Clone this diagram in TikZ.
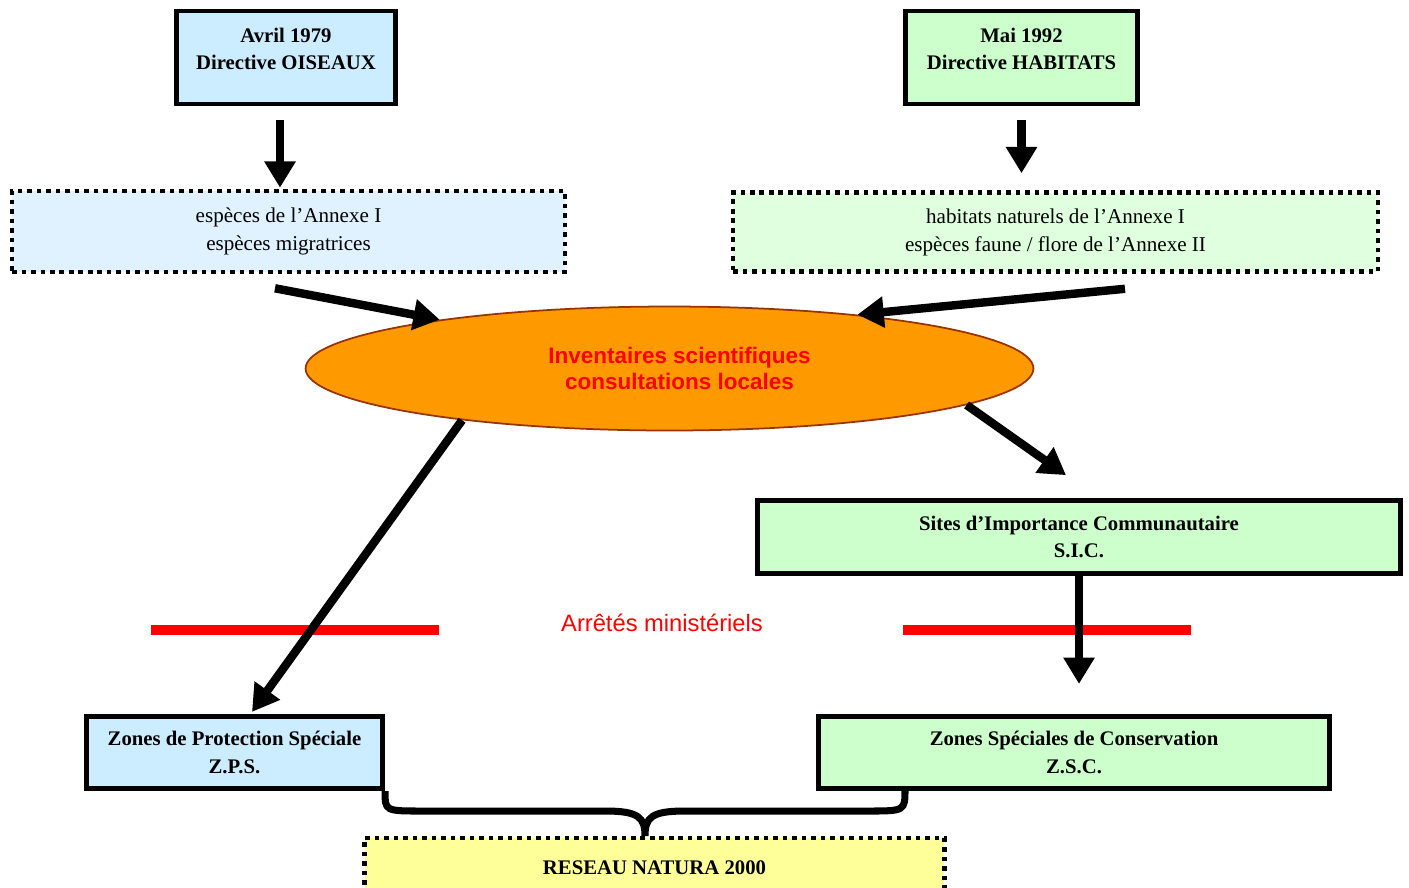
\documentclass[tikz,border=0pt]{standalone}
\usepackage{fontspec}
\setmainfont{Liberation Serif}
\setsansfont{Liberation Sans}
\usepackage{tikz}
\usetikzlibrary{positioning}
\usetikzlibrary{arrows.meta, shapes, calc}

\definecolor{bleuclair}{HTML}{CCECFF}
\definecolor{bleupale}{HTML}{E0F2FF}
\definecolor{vertclair}{HTML}{CCFFCC}
\definecolor{vertpale}{HTML}{DFFFDF}
\definecolor{jaunepale}{HTML}{FFFF99}
\definecolor{orangeinv}{HTML}{FF9900}
\definecolor{brun}{HTML}{993300}

\tikzset{
    directive/.style={draw, line width=2.7pt, align=center, inner sep=0pt,
        font=\fontsize{11.8pt}{15.5pt}\selectfont\bfseries},
    annexe/.style={draw, line width=2.6pt, dash pattern=on 2.6pt off 2.8pt,
        align=center, inner sep=0pt, font=\fontsize{12pt}{16pt}\selectfont},
    fleche/.style={line width=4.8pt, -{Triangle[length=15pt, width=17pt]}},
    trait/.style={red, line width=6pt},
    accolade/.style={line width=4pt},
}

\begin{document}
\begin{tikzpicture}[x=0.02cm, y=-0.02cm]
    \useasboundingbox (0,0) rectangle (1409,887);

    % Nodes
    \node[directive, fill=bleuclair, minimum width=4.39cm, minimum height=1.86cm, text depth=10pt]
        (oiseaux) at (286,57.5) {Avril 1979 \\ Directive OISEAUX};

    \node[directive, fill=vertclair, minimum width=4.65cm, minimum height=1.86cm, text depth=10pt]
        (habitats) at (1021.5,57.5) {Mai 1992 \\ Directive HABITATS};

    \node[annexe, fill=bleupale, minimum width=11.06cm, minimum height=1.62cm]
        (annexeA) at (288.5,231.5) {espèces de l’Annexe I \\ espèces migratrices};

    \node[annexe, fill=vertpale, minimum width=12.9cm, minimum height=1.58cm]
        (annexeB) at (1055.5,232) {habitats naturels de l’Annexe I \\ espèces faune / flore de l’Annexe II};

    \node[ellipse, draw=brun, line width=1pt, fill=orangeinv, inner sep=0pt,
        minimum width=14.56cm, minimum height=2.48cm, align=center, text=red,
        font=\fontsize{12.8pt}{15pt}\selectfont\sffamily\bfseries]
        (inventaires) at (669.5,368.5) {\hspace*{0.4cm}Inventaires scientifiques \\ \hspace*{0.4cm}consultations locales};

    \node[directive, fill=vertclair, minimum width=12.87cm, minimum height=1.46cm]
        (sic) at (1079,537) {Sites d’Importance Communautaire \\ S.I.C.};

    \node[text=red, font=\fontsize{13.5pt}{16pt}\selectfont\sffamily]
        (arretes) at (662,623) {Arrêtés ministériels};

    \node[directive, fill=bleuclair, minimum width=5.93cm, minimum height=1.45cm]
        (zps) at (234.5,752.5) {Zones de Protection Spéciale \\ Z.P.S.};

    \node[directive, fill=vertclair, minimum width=10.23cm, minimum height=1.45cm]
        (zsc) at (1074,752.5) {Zones Spéciales de Conservation \\ Z.S.C.};

    \node[annexe, fill=jaunepale, minimum width=11.6cm, minimum height=1.2cm,
        font=\fontsize{11.8pt}{15.5pt}\selectfont\bfseries]
        (natura) at (654.5,868) {RESEAU NATURA 2000};

    \coordinate (pointe) at (645,836);
    \coordinate (accolD) at (905,789);

    % Red bars
    \draw[trait] (151,630) -- (439,630);
    \draw[trait] (903,630) -- (1191,630);

    % Arrows
    \draw[fleche] ($(oiseaux.south)+(-6,14)$) -- ($(annexeA.north)+(-8.5,-1)$);
    \draw[fleche] ($(habitats.south)+(0,14)$) -- ($(habitats.south |- annexeB.north)+(0,-17)$);
    \draw[fleche] ($(annexeA.south)+(-13.5,14)$) -- (inventaires.168);
    \draw[fleche] ($(annexeB.south)+(69.5,15)$) -- (inventaires.16);
    \draw[fleche] (inventaires.194) -- ($(zps.north)+(17.5,-2)$);
    \draw[fleche] (inventaires.353) -- ($(sic.north)+(-13,-23)$);
    \draw[fleche] (sic.south) -- ($(sic.south |- zsc.north)+(0,-30)$);

    % Brace
    \draw[accolade] (zps.south east) .. controls (385,811) .. (422,811)
        -- (605,811) .. controls (638,811) and (645,817) .. (pointe)
        .. controls (645,817) and (652,811) .. (685,811)
        -- (868,811) .. controls (905,811) .. (accolD);
\end{tikzpicture}
\end{document}
